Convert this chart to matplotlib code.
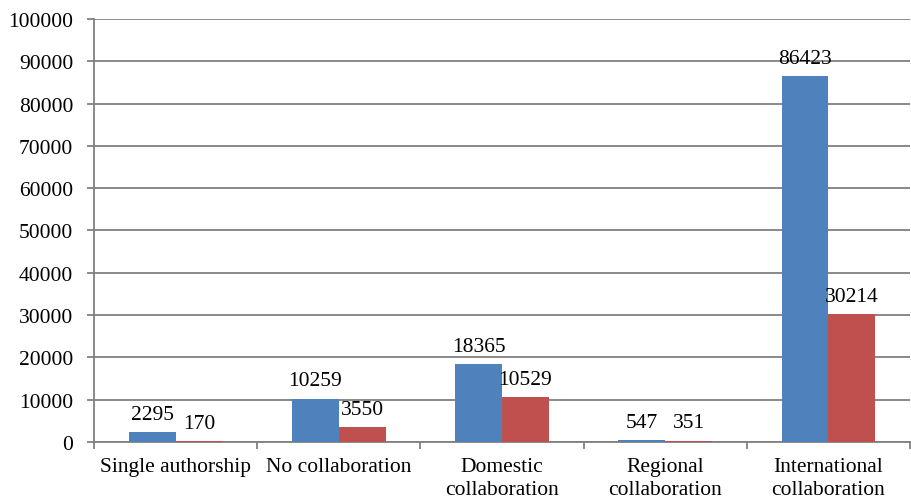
import numpy as np
import matplotlib.pyplot as plt

categories = ['Single authorship', 'No collaboration', 'Domestic\ncollaboration',
              'Regional\ncollaboration', 'International\ncollaboration']
series_a = [2295, 10259, 18365, 547, 86423]
series_b = [170, 3550, 10529, 351, 30214]

plt.rcParams['font.family'] = ['Liberation Serif', 'DejaVu Serif']

fig = plt.figure(figsize=(9.11, 5.02), dpi=100)
ax = fig.add_axes([0.1032, 0.1175, 0.8958, 0.8427])

x = np.arange(len(categories))
w = 0.287
grey = '#808080'

bars_a = ax.bar(x - w/2, series_a, w, color='#4F81BD', zorder=3)
bars_b = ax.bar(x + w/2, series_b, w, color='#C0504D', zorder=3)

for bars, vals in [(bars_a, series_a), (bars_b, series_b)]:
    for b, v in zip(bars, vals):
        ax.annotate(str(v), xy=(b.get_x() + b.get_width()/2, v), xytext=(0, 9.5),
                    textcoords='offset points', ha='center', va='baseline',
                    fontsize=15.5, color='black', zorder=4)

ax.set_xlim(-0.5, len(categories) - 0.5)
ax.set_ylim(0, 100000)
ax.set_yticks(np.arange(0, 100001, 10000))
ax.yaxis.grid(True, color=grey, linewidth=1.3, zorder=0)

ax.set_xticks(x)
ax.set_xticklabels(categories, fontsize=15.5, linespacing=1.3)
ax.set_xticks(np.arange(-0.5, len(categories)), minor=True)
ax.tick_params(axis='x', which='major', length=0, pad=11)
ax.tick_params(axis='x', which='minor', length=5, color=grey, width=1.3, direction='out')
ax.tick_params(axis='y', length=5, color=grey, width=1.3, direction='out', pad=10, labelsize=15.5)

for s in ['top', 'right']:
    ax.spines[s].set_visible(False)
for s in ['left', 'bottom']:
    ax.spines[s].set_color(grey)
    ax.spines[s].set_linewidth(1.3)

plt.savefig('out.png', dpi=100)
